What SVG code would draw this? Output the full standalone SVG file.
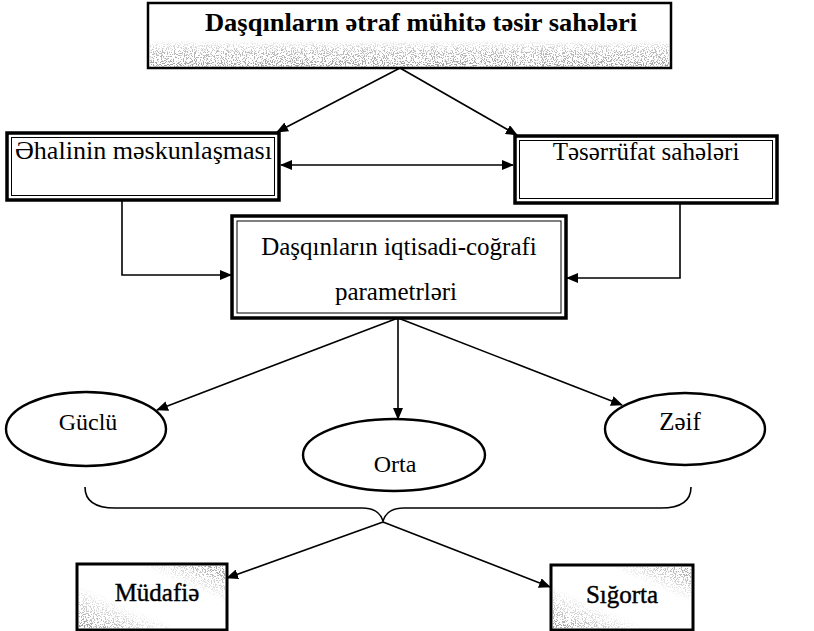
<svg xmlns="http://www.w3.org/2000/svg" width="814" height="631" viewBox="0 0 814 631">
<style>
.t{font-family:"Liberation Serif","Times New Roman",serif;fill:#000}
.b{font-weight:bold}
.box{fill:#fff;stroke:#000}
.ln{fill:none;stroke:#000;stroke-width:1.6}
.el{fill:#fff;stroke:#000;stroke-width:2.4}
.hv{stroke:#000;stroke-width:0.4}
</style>
<defs>
<marker id="ah" viewBox="0 0 12 10" refX="11" refY="5" markerWidth="12" markerHeight="10" markerUnits="userSpaceOnUse" orient="auto-start-reverse">
<path d="M0,0 L12,5 L0,10 Z" fill="#000"/>
</marker>
<filter id="grain" x="0" y="0" width="1" height="1">
<feTurbulence type="fractalNoise" baseFrequency="0.9" numOctaves="2" seed="4" result="n"/>
<feColorMatrix in="n" type="matrix" values="0 0 0 0 0.3  0 0 0 0 0.3  0 0 0 0 0.3  14 0 0 0 -7.3" result="d"/>
<feComposite in="d" in2="SourceGraphic" operator="in"/>
</filter>
<linearGradient id="gv" x1="0" y1="0" x2="0" y2="1">
<stop offset="0" stop-color="#000" stop-opacity="0"/>
<stop offset="0.4" stop-color="#000" stop-opacity="0.6"/>
<stop offset="1" stop-color="#000" stop-opacity="0.9"/>
</linearGradient>
<linearGradient id="gd" x1="0" y1="1" x2="1" y2="0">
<stop offset="0" stop-color="#000" stop-opacity="1"/>
<stop offset="0.35" stop-color="#000" stop-opacity="0"/>
<stop offset="0.7" stop-color="#000" stop-opacity="0"/>
<stop offset="1" stop-color="#000" stop-opacity="1"/>
</linearGradient>
</defs>

<g id="connectors">
<path class="ln" d="M400,68 L277,132" marker-end="url(#ah)"/>
<path class="ln" d="M400,68 L517,135" marker-end="url(#ah)"/>
<path class="ln" d="M281,165 L513,165" marker-start="url(#ah)" marker-end="url(#ah)"/>
<path class="ln" d="M122,200 V275 H231" marker-end="url(#ah)"/>
<path class="ln" d="M680,203 V278 H567" marker-end="url(#ah)"/>
<path class="ln" d="M398,318 L157,410" marker-end="url(#ah)"/>
<path class="ln" d="M398,318 V419" marker-end="url(#ah)"/>
<path class="ln" d="M398,318 L622,405" marker-end="url(#ah)"/>
<path class="ln" d="M85,487 Q85,508 115,508 L362,508 Q379,508 383,521 Q387,508 404,508 L661,508 Q691,508 691,487"/>
<path class="ln" d="M383,522 L227,578" marker-end="url(#ah)"/>
<path class="ln" d="M383,522 L550,587" marker-end="url(#ah)"/>
</g>

<g id="node-top">
<rect class="box" x="148" y="3" width="523" height="65" stroke-width="2.5"/>
<rect x="150" y="40" width="519" height="27" fill="url(#gv)" filter="url(#grain)"/>
<text class="t b" x="205" y="31" font-size="26" textLength="432" lengthAdjust="spacingAndGlyphs">Daşqınların ətraf mühitə təsir sahələri</text>
</g>

<g id="node-ehali">
<rect class="box" x="7" y="133" width="272" height="67" stroke-width="3.5"/>
<rect class="box" x="11.5" y="137.5" width="263" height="58" stroke-width="1"/>
<text class="t" x="15" y="159" font-size="26" textLength="257" lengthAdjust="spacingAndGlyphs">Əhalinin məskunlaşması</text>
</g>

<g id="node-teserrufat">
<rect class="box" x="515" y="136" width="262" height="67" stroke-width="3.5"/>
<rect class="box" x="519.5" y="140.5" width="253" height="58" stroke-width="1"/>
<text class="t" x="646" y="160" font-size="25" text-anchor="middle">Təsərrüfat sahələri</text>
</g>

<g id="node-center">
<rect class="box" x="232" y="216" width="334" height="102" stroke-width="3.5"/>
<rect class="box" x="237" y="221" width="324" height="92" stroke-width="1"/>
<text class="t" x="399" y="255" font-size="25" text-anchor="middle">Daşqınların iqtisadi-coğrafi</text>
<text class="t" x="396" y="300" font-size="25" text-anchor="middle">parametrləri</text>
</g>

<g id="node-guclu">
<ellipse class="el" cx="86" cy="429" rx="80" ry="37"/>
<text class="t" x="88" y="430" font-size="24" text-anchor="middle">Güclü</text>
</g>

<g id="node-orta">
<ellipse class="el" cx="394" cy="455" rx="91" ry="36"/>
<text class="t" x="395" y="472" font-size="24" text-anchor="middle">Orta</text>
</g>

<g id="node-zeif">
<ellipse class="el" cx="685" cy="429" rx="80" ry="36"/>
<text class="t" x="680" y="430" font-size="25" text-anchor="middle">Zəif</text>
</g>

<g id="node-mudafie">
<rect class="box" x="77" y="564" width="150" height="66" stroke-width="3"/>
<rect x="79" y="566" width="146" height="62" fill="url(#gd)" filter="url(#grain)"/>
<text class="t hv" x="157" y="601" font-size="25" text-anchor="middle">Müdafiə</text>
</g>

<g id="node-sigorta">
<rect class="box" x="551" y="565" width="142" height="65" stroke-width="3"/>
<rect x="553" y="567" width="138" height="61" fill="url(#gd)" filter="url(#grain)"/>
<text class="t hv" x="622" y="603" font-size="25" text-anchor="middle">Sığorta</text>
</g>
</svg>
